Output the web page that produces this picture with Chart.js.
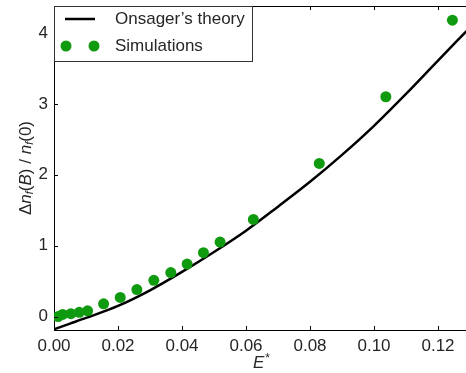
<!DOCTYPE html>
<html><head><meta charset="utf-8">
<script src="https://cdn.jsdelivr.net/npm/chart.js@4"></script>
<style>html,body{margin:0;padding:0;background:#fff}#wrap{width:466px;height:373px}</style>
</head><body><div id="wrap"><canvas id="c" width="466" height="373"></canvas></div>
<script>
const simE = [0.0013,0.0027,0.0053,0.0079,0.0105,0.0155,0.0207,0.0259,0.0312,0.0365,0.0416,0.0467,0.0519,0.0623,0.0829,0.1037,0.1245];
const simVal = [0.00,0.03,0.04,0.06,0.08,0.18,0.27,0.38,0.51,0.62,0.74,0.90,1.05,1.37,2.16,3.10,4.18];
const theoryE = [0,0.005,0.01,0.02,0.03,0.04,0.05,0.06,0.07,0.08,0.09,0.10,0.11,0.12,0.129];
const theoryVal = [-0.18,-0.10,-0.02,0.15,0.37,0.63,0.91,1.21,1.55,1.90,2.28,2.69,3.14,3.61,4.03];
const xTicks = [0,0.02,0.04,0.06,0.08,0.10,0.12];
const yTicks = [0,1,2,3,4];
const legendLabels = ["Onsager\u2019s theory","Simulations"];
const FONT = "'Liberation Sans', Arial, sans-serif";
const TXT = '#262626';
const GREEN = '#109a10';

const decor = {
  id:'decor',
  afterDraw(chart){
    const ctx = chart.ctx, a = chart.chartArea;
    const xs = chart.scales.x, ys = chart.scales.y;
    ctx.save();
    ctx.strokeStyle = '#000'; ctx.lineWidth = 1;
    ctx.beginPath(); ctx.moveTo(a.left, a.top+0.5); ctx.lineTo(a.right, a.top+0.5); ctx.stroke();
    ctx.beginPath();
    xTicks.forEach(v=>{const p=Math.round(xs.getPixelForValue(v))+0.5;
      ctx.moveTo(p,a.bottom); ctx.lineTo(p,a.bottom-4);
      ctx.moveTo(p,a.top); ctx.lineTo(p,a.top+4);});
    yTicks.forEach(v=>{const p=Math.round(ys.getPixelForValue(v))+0.5;
      ctx.moveTo(a.left,p); ctx.lineTo(a.left+4,p);});
    ctx.stroke();
    const lx=a.left, ly=a.top, lw=199, lh=56;
    ctx.fillStyle='#fff'; ctx.fillRect(lx,ly,lw,lh);
    ctx.strokeStyle='#333'; ctx.lineWidth=1;
    ctx.strokeRect(lx+0.5,ly+0.5,lw-1,lh-1);
    ctx.strokeStyle='#000'; ctx.lineWidth=2.5;
    ctx.beginPath(); ctx.moveTo(65,19); ctx.lineTo(95,19); ctx.stroke();
    ctx.fillStyle=GREEN;
    [66,94].forEach(cx=>{ctx.beginPath(); ctx.arc(cx,46,5.5,0,Math.PI*2); ctx.fill();});
    ctx.fillStyle=TXT; ctx.font='17px '+FONT; ctx.textBaseline='middle'; ctx.textAlign='left';
    ctx.fillText(legendLabels[0],115,19);
    ctx.fillText(legendLabels[1],115,46);
    ctx.font='italic 17px '+FONT; ctx.textAlign='left'; ctx.textBaseline='alphabetic';
    ctx.fillText('E',253,368);
    const ew=ctx.measureText('E').width;
    ctx.font='12px '+FONT; ctx.fillText('*',253+ew+1,362);
    ctx.translate(26,168); ctx.rotate(-Math.PI/2);
    const parts=[['\u0394',17,0,''],['n',17,0,'italic '],['f',11,4,'italic '],['(',17,0,''],['B',17,0,'italic '],[')',17,0,''],[' / ',17,0,''],['n',17,0,'italic '],['f',11,4,'italic '],['(0)',17,0,'']];
    let tw=0;
    parts.forEach(p=>{ctx.font=p[3]+p[1]+'px '+FONT; tw+=ctx.measureText(p[0]).width;});
    let cx=-tw/2;
    ctx.textBaseline='middle';
    parts.forEach(p=>{ctx.font=p[3]+p[1]+'px '+FONT; ctx.fillText(p[0],cx,p[2]); cx+=ctx.measureText(p[0]).width;});
    ctx.restore();
  }
};

function zeroPad(s){s.paddingTop=0;s.paddingBottom=0;s.paddingLeft=0;s.paddingRight=0;}

new Chart(document.getElementById('c'),{
  type:'scatter',
  data:{datasets:[
    {label:legendLabels[0], type:'line', data:theoryE.map((e,i)=>({x:e,y:theoryVal[i]})),
     borderColor:'#000', borderWidth:2.5, pointRadius:0, cubicInterpolationMode:'monotone', fill:false, order:2},
    {label:legendLabels[1], data:simE.map((e,i)=>({x:e,y:simVal[i]})),
     backgroundColor:GREEN, borderColor:GREEN, borderWidth:0, pointRadius:5.5, order:1}
  ]},
  options:{
    responsive:false, animation:false, devicePixelRatio:1,
    layout:{autoPadding:false, padding:{top:6,right:0,left:0,bottom:0}},
    plugins:{legend:{display:false}, tooltip:{enabled:false}},
    scales:{
      x:{type:'linear', min:0, max:0.12875,
         afterBuildTicks:s=>{s.ticks=xTicks.map(v=>({value:v}));},
         afterFit:s=>{s.height=43; zeroPad(s);},
         grid:{display:true, drawOnChartArea:false, drawTicks:false, color:'rgba(0,0,0,0)'},
         border:{display:true, color:'#000', width:1},
         ticks:{padding:6, color:TXT, font:{family:FONT,size:17}, maxRotation:0, callback:v=>v.toFixed(2)}},
      y:{type:'linear', min:-0.19, max:4.38,
         afterBuildTicks:s=>{s.ticks=yTicks.map(v=>({value:v}));},
         afterFit:s=>{s.width=54; zeroPad(s);},
         grid:{display:true, drawOnChartArea:false, drawTicks:false, color:'rgba(0,0,0,0)'},
         border:{display:true, color:'#000', width:1},
         ticks:{padding:6, color:TXT, font:{family:FONT,size:17}, callback:v=>String(v)}}
    }
  },
  plugins:[decor]
});
</script></body></html>
